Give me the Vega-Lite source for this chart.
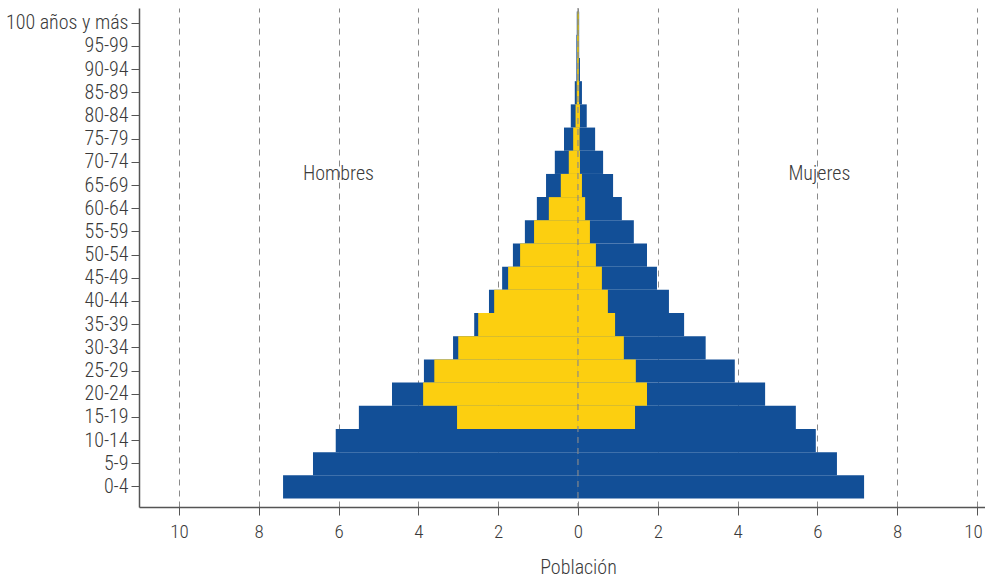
{
  "$schema": "https://vega.github.io/schema/vega-lite/v6.json",
  "autosize": "none",
  "width": 846,
  "height": 499,
  "padding": {"left": 139, "top": 8, "right": 0, "bottom": 74},
  "background": "white",
  "config": {
    "font": "Roboto Condensed, Liberation Sans Narrow, DejaVu Sans Condensed, sans-serif",
    "view": {"stroke": null}
  },
  "datasets": {
    "pop": [
      {"edad": "100 años y más", "sexo": "Hombres", "azul": -0.03, "amarillo": -0.015},
      {"edad": "100 años y más", "sexo": "Mujeres", "azul": 0.03, "amarillo": 0.02},
      {"edad": "95-99", "sexo": "Hombres", "azul": -0.04, "amarillo": -0.02},
      {"edad": "95-99", "sexo": "Mujeres", "azul": 0.03, "amarillo": 0.02},
      {"edad": "90-94", "sexo": "Hombres", "azul": -0.04, "amarillo": -0.02},
      {"edad": "90-94", "sexo": "Mujeres", "azul": 0.05, "amarillo": 0.02},
      {"edad": "85-89", "sexo": "Hombres", "azul": -0.08, "amarillo": -0.03},
      {"edad": "85-89", "sexo": "Mujeres", "azul": 0.1, "amarillo": 0.03},
      {"edad": "80-84", "sexo": "Hombres", "azul": -0.18, "amarillo": -0.06},
      {"edad": "80-84", "sexo": "Mujeres", "azul": 0.22, "amarillo": 0.05},
      {"edad": "75-79", "sexo": "Hombres", "azul": -0.35, "amarillo": -0.12},
      {"edad": "75-79", "sexo": "Mujeres", "azul": 0.43, "amarillo": 0.04},
      {"edad": "70-74", "sexo": "Hombres", "azul": -0.58, "amarillo": -0.23},
      {"edad": "70-74", "sexo": "Mujeres", "azul": 0.63, "amarillo": 0.05},
      {"edad": "65-69", "sexo": "Hombres", "azul": -0.8, "amarillo": -0.43},
      {"edad": "65-69", "sexo": "Mujeres", "azul": 0.88, "amarillo": 0.1},
      {"edad": "60-64", "sexo": "Hombres", "azul": -1.03, "amarillo": -0.73},
      {"edad": "60-64", "sexo": "Mujeres", "azul": 1.1, "amarillo": 0.18},
      {"edad": "55-59", "sexo": "Hombres", "azul": -1.33, "amarillo": -1.1},
      {"edad": "55-59", "sexo": "Mujeres", "azul": 1.4, "amarillo": 0.3},
      {"edad": "50-54", "sexo": "Hombres", "azul": -1.63, "amarillo": -1.45},
      {"edad": "50-54", "sexo": "Mujeres", "azul": 1.73, "amarillo": 0.45},
      {"edad": "45-49", "sexo": "Hombres", "azul": -1.9, "amarillo": -1.75},
      {"edad": "45-49", "sexo": "Mujeres", "azul": 1.98, "amarillo": 0.6},
      {"edad": "40-44", "sexo": "Hombres", "azul": -2.23, "amarillo": -2.1},
      {"edad": "40-44", "sexo": "Mujeres", "azul": 2.28, "amarillo": 0.75},
      {"edad": "35-39", "sexo": "Hombres", "azul": -2.6, "amarillo": -2.5},
      {"edad": "35-39", "sexo": "Mujeres", "azul": 2.66, "amarillo": 0.93},
      {"edad": "30-34", "sexo": "Hombres", "azul": -3.13, "amarillo": -3.0},
      {"edad": "30-34", "sexo": "Mujeres", "azul": 3.2, "amarillo": 1.15},
      {"edad": "25-29", "sexo": "Hombres", "azul": -3.86, "amarillo": -3.6},
      {"edad": "25-29", "sexo": "Mujeres", "azul": 3.93, "amarillo": 1.45},
      {"edad": "20-24", "sexo": "Hombres", "azul": -4.66, "amarillo": -3.88},
      {"edad": "20-24", "sexo": "Mujeres", "azul": 4.69, "amarillo": 1.73},
      {"edad": "15-19", "sexo": "Hombres", "azul": -5.49, "amarillo": -3.03},
      {"edad": "15-19", "sexo": "Mujeres", "azul": 5.46, "amarillo": 1.43},
      {"edad": "10-14", "sexo": "Hombres", "azul": -6.07, "amarillo": 0},
      {"edad": "10-14", "sexo": "Mujeres", "azul": 5.96, "amarillo": 0},
      {"edad": "5-9", "sexo": "Hombres", "azul": -6.64, "amarillo": 0},
      {"edad": "5-9", "sexo": "Mujeres", "azul": 6.49, "amarillo": 0},
      {"edad": "0-4", "sexo": "Hombres", "azul": -7.39, "amarillo": 0},
      {"edad": "0-4", "sexo": "Mujeres", "azul": 7.17, "amarillo": 0}
    ],
    "etiquetas": [
      {"edad": "70-74", "pos": -6, "texto": "Hombres"},
      {"edad": "70-74", "pos": 6.05, "texto": "Mujeres"}
    ]
  },
  "layer": [
    {
      "data": {"name": "pop"},
      "mark": {"type": "bar", "color": "#124F97"},
      "encoding": {
        "y": {
          "field": "edad",
          "type": "nominal",
          "sort": ["100 años y más", "95-99", "90-94", "85-89", "80-84", "75-79", "70-74", "65-69", "60-64", "55-59", "50-54", "45-49", "40-44", "35-39", "30-34", "25-29", "20-24", "15-19", "10-14", "5-9", "0-4"],
          "scale": {"paddingInner": 0, "paddingOuter": 0.26, "align": 0.3},
          "title": null,
          "axis": {
            "domainColor": "#555555",
            "domainWidth": 1.5,
            "tickColor": "#555555",
            "tickSize": 8,
            "labelPadding": 3,
            "labelFontSize": 20,
            "labelFontWeight": 300,
            "labelColor": "#3a3a3a",
            "grid": false
          }
        },
        "x": {
          "field": "azul",
          "type": "quantitative",
          "title": "Población",
          "scale": {"domain": [-11, 10.2], "nice": false, "zero": true},
          "axis": {
            "values": [-10, -8, -6, -4, -2, 0, 2, 4, 6, 8, 10],
            "labelExpr": "'' + abs(datum.value)",
            "labelOffset": {"condition": {"test": "datum.value === 10", "value": -4}, "value": 0},
            "grid": true,
            "gridDash": [6, 5],
            "gridColor": "#8a8a8a",
            "gridWidth": 1,
            "domainColor": "#555555",
            "domainWidth": 1.5,
            "tickColor": "#555555",
            "tickSize": 8,
            "labelPadding": 7,
            "labelFontSize": 19,
            "labelFontWeight": 300,
            "labelColor": "#3a3a3a",
            "titleFontSize": 20,
            "titleFontWeight": 300,
            "titleColor": "#3a3a3a",
            "titlePadding": 16,
            "titleX": 439
          }
        }
      }
    },
    {
      "data": {"name": "pop"},
      "mark": {"type": "bar", "color": "#FCCF10"},
      "encoding": {
        "y": {
          "field": "edad",
          "type": "nominal",
          "sort": ["100 años y más", "95-99", "90-94", "85-89", "80-84", "75-79", "70-74", "65-69", "60-64", "55-59", "50-54", "45-49", "40-44", "35-39", "30-34", "25-29", "20-24", "15-19", "10-14", "5-9", "0-4"],
          "title": null
        },
        "x": {"field": "amarillo", "type": "quantitative", "title": "Población"}
      }
    },
    {
      "data": {"values": [{"cero": 0}]},
      "mark": {"type": "rule", "color": "#8a8a8a", "strokeDash": [6, 5], "strokeWidth": 1.5, "opacity": 0.75},
      "encoding": {
        "x": {"field": "cero", "type": "quantitative", "title": "Población"}
      }
    },
    {
      "data": {"name": "etiquetas"},
      "mark": {"type": "text", "fontSize": 20, "fontWeight": 300, "color": "#3a3a3a", "align": "center", "baseline": "middle"},
      "encoding": {
        "y": {
          "field": "edad",
          "type": "nominal",
          "bandPosition": 1,
          "sort": ["100 años y más", "95-99", "90-94", "85-89", "80-84", "75-79", "70-74", "65-69", "60-64", "55-59", "50-54", "45-49", "40-44", "35-39", "30-34", "25-29", "20-24", "15-19", "10-14", "5-9", "0-4"],
          "title": null
        },
        "x": {"field": "pos", "type": "quantitative", "title": "Población"},
        "text": {"field": "texto", "type": "nominal"}
      }
    }
  ]
}
